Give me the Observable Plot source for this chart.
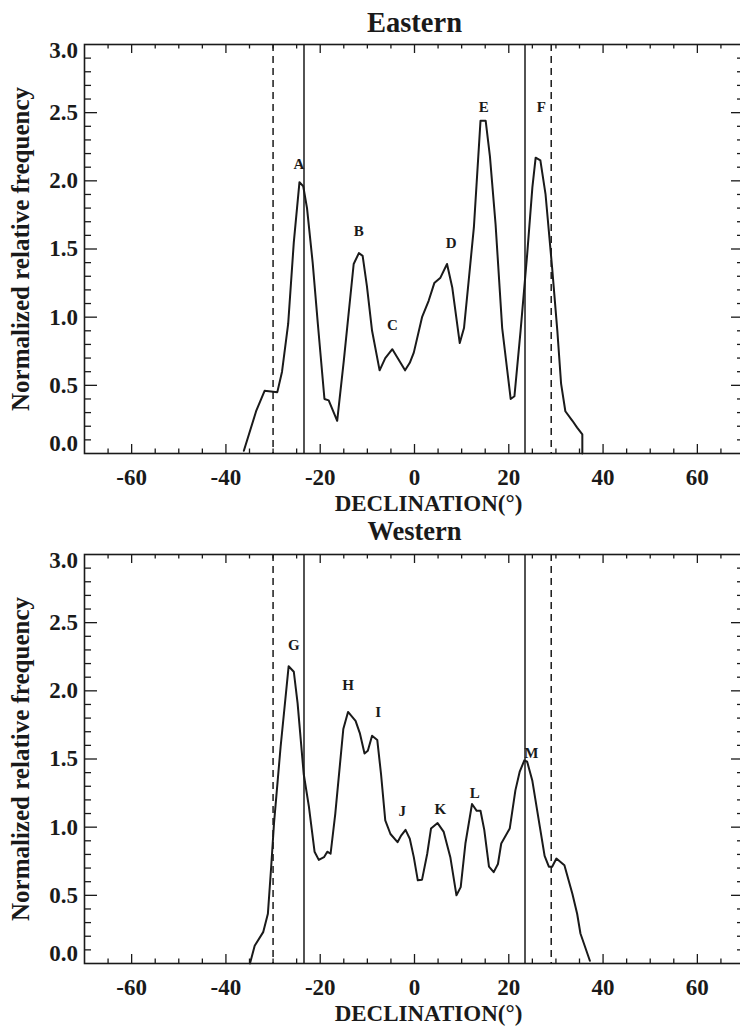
<!DOCTYPE html>
<html><head><meta charset="utf-8">
<script src="https://cdn.jsdelivr.net/npm/d3@7"></script>
<script src="https://cdn.jsdelivr.net/npm/@observablehq/plot@0.6"></script>
<style>
html,body{margin:0;padding:0;background:#fff;overflow:hidden;}
#wrap{position:relative;width:740px;height:1026px;overflow:hidden;}
#wrap svg{position:absolute;left:0;}
</style></head><body><div id="wrap"></div>
<script>
// ---- Eastern panel data ----
const easternDec  = [-36.2,-33.6,-31.8,-29.1,-28.1,-26.8,-25.6,-24.4,-23.6,-22.8,-21.6,-20.5,-19.1,-18.2,-16.4,-15.0,-12.9,-11.8,-11.0,-10.1,-9.0,-7.4,-6.2,-4.7,-2.0,-1.0,-0.15,1.6,3.0,4.2,5.5,6.9,8.0,9.6,10.5,11.5,12.6,14.0,15.1,16.0,17.2,18.6,20.4,21.2,22.5,23.9,25.0,25.7,26.7,27.8,29.2,30.3,31.1,32.0,33.5,34.5,35.6,35.6];
const easternFreq = [0.02,0.31,0.46,0.45,0.60,0.95,1.55,1.99,1.96,1.80,1.40,0.95,0.40,0.39,0.24,0.68,1.39,1.47,1.45,1.23,0.90,0.61,0.70,0.765,0.61,0.665,0.74,1.0,1.12,1.25,1.29,1.39,1.22,0.81,0.92,1.27,1.66,2.44,2.44,2.18,1.68,0.92,0.40,0.42,0.90,1.46,1.95,2.17,2.15,1.90,1.36,0.90,0.51,0.31,0.24,0.19,0.14,0.0];
const easternPeaks     = ["A","B","C","D","E","F"];
const easternPeakDec   = [-24.5,-11.8,-4.7,7.8,14.7,26.9];
const easternPeakFreq  = [2.12,1.63,0.94,1.54,2.54,2.54];

// ---- Western panel data ----
const westernDec  = [-34.9,-33.9,-32.1,-31.1,-30.4,-29.8,-28.4,-26.7,-25.6,-24.8,-23.5,-22.4,-21.2,-20.3,-19.2,-18.5,-17.8,-16.8,-15.1,-14.1,-12.5,-11.6,-10.6,-9.9,-9.0,-7.9,-7.1,-6.2,-5.1,-3.6,-2.8,-1.9,-1.0,-0.15,0.7,1.6,2.7,3.5,4.9,6.2,7.6,8.9,9.8,10.8,12.2,13.2,14.0,14.8,15.8,16.8,17.7,18.4,20.2,21.4,22.3,23.3,23.9,25.0,26.6,27.6,28.5,29.2,30.1,31.8,33.5,34.5,35.2,37.2];
const westernFreq = [0.0,0.13,0.23,0.365,0.71,1.03,1.59,2.18,2.14,1.91,1.39,1.15,0.82,0.76,0.78,0.82,0.805,1.10,1.72,1.845,1.78,1.69,1.54,1.56,1.67,1.64,1.39,1.05,0.95,0.89,0.94,0.98,0.915,0.78,0.61,0.615,0.805,0.99,1.03,0.965,0.78,0.50,0.56,0.88,1.17,1.12,1.12,0.98,0.71,0.67,0.73,0.88,0.99,1.27,1.405,1.49,1.48,1.34,1.0,0.79,0.71,0.71,0.77,0.72,0.51,0.365,0.22,0.02];
const westernPeaks     = ["G","H","I","J","K","L","M"];
const westernPeakDec   = [-25.6,-14.1,-7.7,-2.6,5.5,12.8,24.8];
const westernPeakFreq  = [2.335,2.04,1.84,1.12,1.13,1.25,1.54];

// ---- reference lines ----
const solidLines  = [-23.44, 23.44];
const dashedLines = [-30, 29];

// ---- ticks ----
const xLabelTicks = [-60,-40,-20,0,20,40,60];
const xMinorTicks = [-65,-55,-50,-45,-35,-30,-25,-15,-10,-5,5,10,15,25,30,35,45,50,55,65];
const yLabelTicks = [0.5,1.0,1.5,2.0,2.5];
const yMajorTicks = [0.5,1.0,1.5,2.0,2.5];
const yMinorTicks = [0.1,0.2,0.3,0.4,0.6,0.7,0.8,0.9,1.1,1.2,1.3,1.4,1.6,1.7,1.8,1.9,2.1,2.2,2.3,2.4,2.6,2.7,2.8,2.9];
const xTitle = "DECLINATION(°)";
const yTitle = "Normalized relative frequency";

const FONT = "'Liberation Serif','Times New Roman',Times,serif";
const INK = "#1a1a1a";

function panel(title, dec, freq, peaks, peakDec, peakFreq, titleDy, titleSize) {
  const data = dec.map((d, i) => ({dec: d, freq: freq[i]}));
  const lab = peaks.map((t, i) => ({t, dec: peakDec[i], freq: peakFreq[i]}));
  const MT = 44, PH = 409, MB = 70, ML = 84, MR = -4, W = 740;
  const H = MT + PH + MB;
  const PW = W - ML - MR;
  const tk = {stroke: INK, strokeWidth: 1.3};
  return Plot.plot({
    width: W, height: H,
    marginTop: MT, marginBottom: MB, marginLeft: ML, marginRight: MR,
    style: {fontFamily: FONT, fontWeight: "bold", fontSize: "23px", background: "transparent", color: INK},
    x: {domain: [-70, 70]},
    y: {domain: [0, 3]},
    marks: [
      Plot.ruleX(solidLines, {stroke: INK, strokeWidth: 1.5}),
      Plot.ruleX(dashedLines, {stroke: INK, strokeWidth: 1.5, strokeDasharray: "7,5"}),
      Plot.ruleX(xLabelTicks, {...tk, insetTop: PH - 9}),
      Plot.ruleX(xLabelTicks, {...tk, insetBottom: PH - 9}),
      Plot.ruleX(xMinorTicks, {...tk, insetTop: PH - 4.5}),
      Plot.ruleX(xMinorTicks, {...tk, insetBottom: PH - 4.5}),
      Plot.ruleY(yMajorTicks, {...tk, insetRight: PW - 13}),
      Plot.ruleY(yMajorTicks, {...tk, insetLeft: PW - 13}),
      Plot.ruleY(yMinorTicks, {...tk, insetRight: PW - 7}),
      Plot.ruleY(yMinorTicks, {...tk, insetLeft: PW - 7}),
      Plot.line(data, {x: "dec", y: "freq", stroke: INK, strokeWidth: 2, strokeLinejoin: "round"}),
      Plot.text(lab, {x: "dec", y: "freq", text: "t", fontSize: 15, fill: INK}),
      Plot.frame({stroke: INK, strokeWidth: 1.6}),
      Plot.axisX({ticks: xLabelTicks, tickSize: 0, tickPadding: 15, tickFormat: d => String(d), label: null, fill: INK}),
      Plot.axisY({ticks: yLabelTicks, tickSize: 0, tickPadding: 6.5, tickFormat: d3.format(".1f"), label: null, fill: INK}),
      Plot.axisY({ticks: [3], tickSize: 0, tickPadding: 6.5, tickFormat: d3.format(".1f"), label: null, dy: 6.5, fill: INK}),
      Plot.axisY({ticks: [0], tickSize: 0, tickPadding: 6.5, tickFormat: d3.format(".1f"), label: null, dy: -9.5, fill: INK}),
      Plot.text([xTitle], {text: d => d, frameAnchor: "bottom", lineAnchor: "bottom", dy: 57, dx: 14, fontSize: 23, fill: INK}),
      Plot.text([yTitle], {text: d => d, frameAnchor: "left", textAnchor: "middle", lineAnchor: "bottom", rotate: -90, dx: -55.5, fontSize: 25, fill: INK}),
      Plot.text([title], {text: d => d, frameAnchor: "top", lineAnchor: "bottom", dy: titleDy, fontSize: titleSize, fill: INK})
    ]
  });
}

const wrap = document.getElementById("wrap");
const p1 = panel("Eastern", easternDec, easternFreq, easternPeaks, easternPeakDec, easternPeakFreq, -12.5, 28.5);
p1.style.top = "0px";
wrap.appendChild(p1);
const p2 = panel("Western", westernDec, westernFreq, westernPeaks, westernPeakDec, westernPeakFreq, -15, 26.5);
p2.style.top = "510px";
wrap.appendChild(p2);
</script>
</body></html>
